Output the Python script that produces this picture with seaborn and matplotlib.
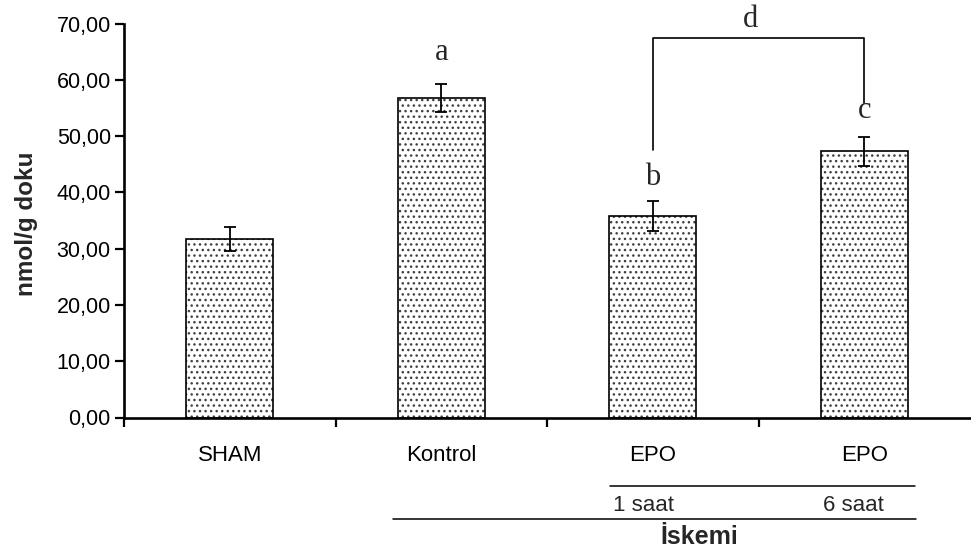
import matplotlib
matplotlib.use("Agg")
import matplotlib.pyplot as plt
import seaborn as sns
import pandas as pd
from matplotlib.ticker import FixedLocator, FuncFormatter

# ---- data ----
groups = ["SHAM", "Kontrol", "EPO 1 saat", "EPO 6 saat"]
means = [31.7, 56.8, 35.8, 47.3]
sems = [2.1, 2.5, 2.6, 2.6]
tick_labels = ["SHAM", "Kontrol", "EPO", "EPO"]
sig_letters = ["", "a", "b", "c"]
sig_letter_y = [0, 63.5, 41.3, 53.2]
y_ticks = [0, 10, 20, 30, 40, 50, 60, 70]
sub_labels = ["1 saat", "6 saat"]
group_label = "İskemi"
y_label = "nmol/g doku"

sns.set_theme(style="ticks")
plt.rcParams['font.family'] = ['Liberation Sans', 'DejaVu Sans']
plt.rcParams['hatch.linewidth'] = 1.0

df = pd.DataFrame({"grup": groups, "deger": means})

fig = plt.figure(figsize=(9.71, 5.49), dpi=100)
W, H = 971, 549
x0, x1, ytop, ybot = 124, 970, 23.5, 417.5
ax = fig.add_axes([x0 / W, 1 - ybot / H, (x1 - x0) / W, (ybot - ytop) / H])

# dotted fill
sns.barplot(data=df, x="grup", y="deger", order=groups, color="white",
            saturation=1, edgecolor="#404040", hatch="...", linewidth=0,
            width=0.41, errorbar=None, ax=ax)
# outline
sns.barplot(data=df, x="grup", y="deger", order=groups, color="black",
            fill=False, linewidth=1.2, width=0.41, errorbar=None, ax=ax)

ax.errorbar(x=list(range(len(groups))), y=means, yerr=sems, fmt="none",
            ecolor="black", elinewidth=1.3, capsize=4.5, capthick=1.3, zorder=5)

ax.set_xlim(-0.5, 3.5)
ax.set_ylim(0, 70)
ax.set_yticks(y_ticks)
ax.yaxis.set_major_formatter(FuncFormatter(lambda v, p: f"{v:.2f}".replace(".", ",")))
ax.set_xticks(range(len(groups)))
ax.set_xticklabels(tick_labels)
ax.xaxis.set_minor_locator(FixedLocator([-0.5, 0.5, 1.5, 2.5]))
ax.tick_params(axis="x", which="major", length=0, pad=20, labelsize=16, colors="black")
ax.tick_params(axis="x", which="minor", length=6.5, width=1.6, direction="out", bottom=True, color="black")
ax.tick_params(axis="y", which="major", length=6.5, width=1.6, direction="out", pad=3, labelsize=15.5, colors="black")
ax.set_xlabel("")
ax.set_ylabel("")
sns.despine(ax=ax)
for s in ["left", "bottom"]:
    ax.spines[s].set_linewidth(1.9)
    ax.spines[s].set_color("black")

fig.text(26 / W, 1 - 224 / H, y_label, rotation=90, ha="center", va="center",
         fontsize=17.5, fontweight="bold")

serif = ["Liberation Serif", "DejaVu Serif"]
for i, (lt, ly) in enumerate(zip(sig_letters, sig_letter_y)):
    if lt:
        ax.text(i, ly, lt, ha="center", va="baseline", fontsize=22, family=serif)

# bracket d
ax.plot([2, 2, 3, 3], [47.5, 67.45, 67.45, 55.9], color="black", lw=1.2, clip_on=False)
ax.text(2.46, 69.4, "d", ha="center", va="baseline", fontsize=22, family=serif)

# lower group annotations
ax.plot([1.798, 3.238], [-12.1, -12.1], color="black", lw=1.1, clip_on=False)
ax.plot([0.770, 3.243], [-18.1, -18.1], color="black", lw=1.1, clip_on=False)
ax.text(1.954, -15.6, sub_labels[0], ha="center", va="center", fontsize=16)
ax.text(2.95, -15.6, sub_labels[1], ha="center", va="center", fontsize=16)
ax.text(2.22, -21.2, group_label, ha="center", va="center", fontsize=18, fontweight="bold")

fig.savefig("out.png", dpi=100)
